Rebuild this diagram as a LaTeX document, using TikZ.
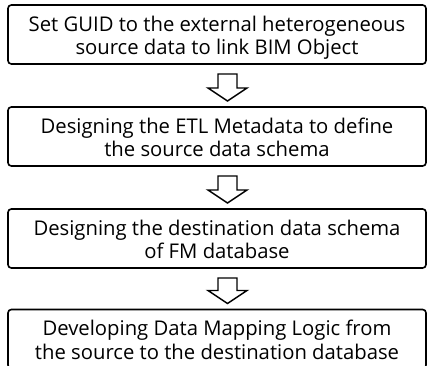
\documentclass[tikz,border=0pt]{standalone}
\usepackage{fontspec}
\setmainfont{Open Sans}
\usetikzlibrary{calc}

% hollow block arrow from the bottom of one step to the top of the next
\newcommand\steparrow[2]{%
  \coordinate (#1-out) at ($(#1.south)+(10.5,10)$);
  \coordinate (#2-in) at ($(#2.north)+(10.5,-6)$);
  \draw[hollow] ($(#1-out)+(-9.5,0)$) -- ($(#1-out)+(9.5,0)$)
    -- ($(#2-in)+(9.5,-13)$) -- ($(#2-in)+(19.5,-13)$) -- (#2-in)
    -- ($(#2-in)+(-19.5,-13)$) -- ($(#2-in)+(-9.5,-13)$) -- cycle;
}

\begin{document}
\begin{tikzpicture}[x=0.75pt,y=-0.75pt,
  stepbox/.style={draw=black, line width=1.2pt, rounded corners=2.5pt,
    fill=white, minimum width=313.5pt, minimum height=44.25pt,
    align=center, inner sep=0pt, outer sep=0pt,
    text height=30pt, text depth=0pt,
    font=\fontsize{15.2pt}{17.6pt}\selectfont},
  hollow/.style={draw=black, line width=1.1pt, fill=white, line join=miter}]
\useasboundingbox (0,0) rectangle (427,366);
\clip (0,0) rectangle (427,366);

\node[stepbox] (s1) at (217,34.5)
  {Set GUID to the external heterogeneous\\source data to link BIM Object};
\node[stepbox] (s2) at (217,136.5)
  {Designing the ETL Metadata to define\\the source data schema};
\node[stepbox] (s3) at (217,238.5)
  {Designing the destination data schema\\of FM database};
\node[stepbox] (s4) at (217,339)
  {Developing Data Mapping Logic from\\the source to the destination database};

\steparrow{s1}{s2}
\steparrow{s2}{s3}
\steparrow{s3}{s4}
\end{tikzpicture}
\end{document}
